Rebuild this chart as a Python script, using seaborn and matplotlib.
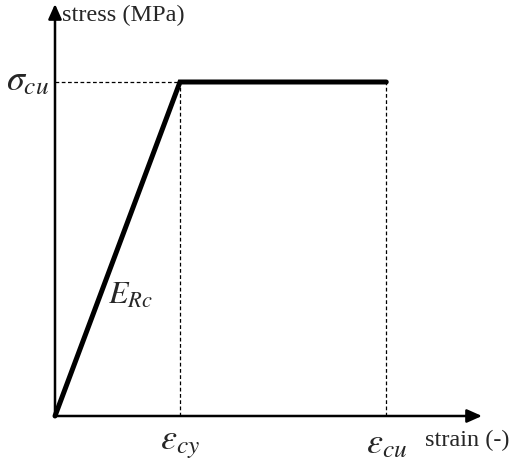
import matplotlib
matplotlib.use("Agg")
import matplotlib.pyplot as plt
import seaborn as sns
import pandas as pd

# stress-strain model (normalised units)
strain_pts = [0.0, 1.0, 2.65]
stress_pts = [0.0, 1.0, 1.0]
eps_cy = 1.0
eps_cu = 2.65
sigma_cu = 1.0

sns.set_style("white")
plt.rcParams["mathtext.fontset"] = "stix"
plt.rcParams["font.family"] = ["Liberation Serif", "DejaVu Serif"]

fig = plt.figure(figsize=(5.16, 4.68), dpi=100)
ax = fig.add_axes([0, 0, 1, 1])

df = pd.DataFrame({"strain": strain_pts, "stress": stress_pts})
sns.lineplot(data=df, x="strain", y="stress", ax=ax, color="black", lw=3.6,
             sort=False, solid_joinstyle="miter")

# dashed guides
ax.plot([0, eps_cy], [sigma_cu, sigma_cu], color="black", lw=0.9, ls=(0, (3, 2)))
ax.plot([eps_cy, eps_cy], [0, sigma_cu], color="black", lw=0.9, ls=(0, (3, 2)))
ax.plot([eps_cu, eps_cu], [0, sigma_cu], color="black", lw=0.9, ls=(0, (3, 2)))

# axes arrows
arrow = dict(arrowstyle="-|>,head_length=0.9,head_width=0.4", color="black", lw=1.8,
             shrinkA=0, shrinkB=0)
ax.annotate("", xy=(3.416, 0), xytext=(0, 0), arrowprops=arrow)
ax.annotate("", xy=(0, 1.2335), xytext=(0, 0), arrowprops=arrow)

ax.text(0.06, 1.198, "stress (MPa)", fontsize=17.5, va="center", ha="left")
ax.text(2.96, -0.072, "strain (-)", fontsize=17.5, va="center", ha="left")
ax.text(-0.22, 1.0, r"$\sigma_{cu}$", fontsize=26, va="center", ha="center")
ax.text(eps_cy, -0.085, r"$\varepsilon_{cy}$", fontsize=26, va="center", ha="center")
ax.text(eps_cu, -0.085, r"$\varepsilon_{cu}$", fontsize=26, va="center", ha="center")
ax.text(0.6, 0.36, r"$E_{Rc}$", fontsize=23, va="center", ha="center")

ax.set_xlim(-0.44, 3.688)
ax.set_ylim(-0.1557, 1.2455)
ax.axis("off")

fig.savefig("out.png", dpi=100)
